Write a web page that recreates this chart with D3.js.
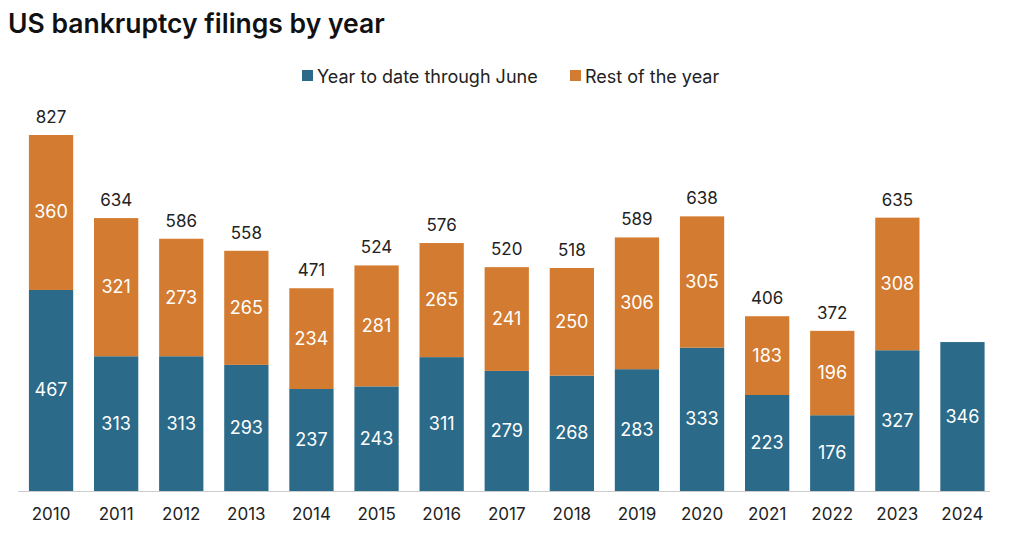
<!DOCTYPE html>
<html>
<head>
<meta charset="utf-8">
<script src="https://cdn.jsdelivr.net/npm/d3@7"></script>
<style>
  body { margin: 0; background: #fff; }
  text { font-family: "Inter", "Roboto", sans-serif; }
</style>
</head>
<body>
<script>
// Data
const years = ["2010","2011","2012","2013","2014","2015","2016","2017","2018","2019","2020","2021","2022","2023","2024"];
const firstHalf = [467, 313, 313, 293, 237, 243, 311, 279, 268, 283, 333, 223, 176, 327, 346];
const restOfYear = [360, 321, 273, 265, 234, 281, 265, 241, 250, 306, 305, 183, 196, 308, null];
const seriesNames = ["Year to date through June", "Rest of the year"];
const colors = ["#2b6a88", "#d37b30"];

const width = 1024, height = 535;
const baseline = 491;

const svg = d3.select("body").append("svg")
    .attr("width", width)
    .attr("height", height);

// Title
svg.append("text")
    .attr("x", 8)
    .attr("y", 33)
    .style("font-size", "26.5px")
    .style("font-weight", "600")
    .style("fill", "#111")
    .text("US bankruptcy filings by year");

// Scales
const x = d3.scaleBand()
    .domain(years)
    .range([18.5, 995])
    .paddingInner(0.32)
    .paddingOuter(0.16);

const y = d3.scaleLinear()
    .domain([0, 827])
    .range([baseline, 135]);

// Stack the two series
const rows = years.map((yr, i) => ({year: yr, a: firstHalf[i], b: restOfYear[i] || 0, hasB: restOfYear[i] != null}));
const stack = d3.stack().keys(["a", "b"])(rows);

// Bars
stack.forEach((layer, li) => {
  const g = svg.append("g");
  g.selectAll("rect")
    .data(layer.filter(d => d[1] > d[0]))
    .enter()
    .append("rect")
      .attr("x", d => x(d.data.year))
      .attr("y", d => y(d[1]))
      .attr("width", x.bandwidth())
      .attr("height", d => y(d[0]) - y(d[1]))
      .style("fill", colors[li]);

  // Segment value labels
  g.selectAll("text")
    .data(layer.filter(d => d[1] > d[0]))
    .enter()
    .append("text")
      .attr("x", d => x(d.data.year) + x.bandwidth() / 2)
      .attr("y", d => (y(d[0]) + y(d[1])) / 2 + 6)
      .attr("text-anchor", "middle")
      .style("font-size", "18px")
      .style("fill", "#fff")
      .text(d => d[1] - d[0]);
});

// Totals above the bars (only years with a full year)
svg.append("g").selectAll("text")
    .data(rows.filter(d => d.hasB))
    .enter()
    .append("text")
      .attr("x", d => x(d.year) + x.bandwidth() / 2)
      .attr("y", d => y(d.a + d.b) - 12)
      .attr("text-anchor", "middle")
      .style("font-size", "17px")
      .style("fill", "#222")
      .text(d => d.a + d.b);

// X axis
const xAxis = svg.append("g")
    .attr("transform", "translate(0," + baseline + ")")
    .call(d3.axisBottom(x).tickSize(0).tickPadding(17).tickSizeOuter(0));
xAxis.select(".domain").attr("stroke", "#ccc").attr("d", "M18,0.5H990");
xAxis.selectAll("text")
    .style("font-size", "17px")
    .style("fill", "#222")
    .style("font-family", "Inter, Roboto, sans-serif");

// Legend
const legend = svg.append("g");
const legendX = [302, 570];
seriesNames.forEach((name, i) => {
  legend.append("rect")
      .attr("x", legendX[i])
      .attr("y", 70)
      .attr("width", 11)
      .attr("height", 11)
      .style("fill", colors[i]);
  legend.append("text")
      .attr("x", legendX[i] + 15)
      .attr("y", 83)
      .style("font-size", "18px")
      .style("fill", "#222")
      .text(name);
});
</script>
</body>
</html>
